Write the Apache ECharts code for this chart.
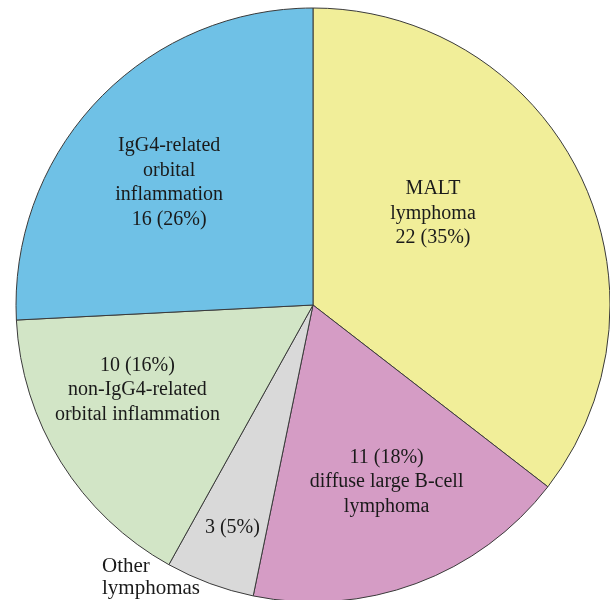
<!DOCTYPE html>
<html><head><meta charset="utf-8">
<script src="https://cdn.jsdelivr.net/npm/echarts@6/dist/echarts.min.js"></script>
<style>html,body{margin:0;padding:0;background:#fff}#c{width:610px;height:600px}</style>
</head><body><div id="c"></div>
<script>
const categories = ['MALT\nlymphoma', 'diffuse large B-cell\nlymphoma', 'Other lymphomas', 'non-IgG4-related\norbital inflammation', 'IgG4-related\norbital\ninflammation'];
const counts = [22, 11, 3, 10, 16];
const percents = [35, 18, 5, 16, 26];
const colors = ['#F1EE99', '#D59CC5', '#D9D9D9', '#D2E5C6', '#6FC1E6'];
// label text layout per slice: value first or name first
const valueFirst = [false, true, true, true, false];
const showName = [true, true, false, true, true];
const labelShift = [[-16, -25], [21, 35], [-28, 81], [-47, 5], [-34, -18]];

const chart = echarts.init(document.getElementById('c'));
chart.setOption({
  animation: false,
  series: [{
    type: 'pie',
    center: [313, 305],
    radius: [0, 297],
    startAngle: 90,
    clockwise: true,
    data: categories.map((n, i) => ({ name: n, value: counts[i], itemStyle: { color: colors[i] } })),
    itemStyle: { borderColor: '#3a3a3a', borderWidth: 1 },
    label: {
      show: true,
      position: 'inside',
      fontFamily: 'Liberation Serif',
      fontSize: 20,
      lineHeight: 24.5,
      color: '#1a1a1a',
      align: 'center',
      formatter: p => {
        const i = p.dataIndex;
        const v = counts[i] + ' (' + percents[i] + '%)';
        if (!showName[i]) return v;
        return valueFirst[i] ? v + '\n' + categories[i] : categories[i] + '\n' + v;
      }
    },
    labelLine: { show: false },
    labelLayout: p => ({ dx: labelShift[p.dataIndex][0], dy: labelShift[p.dataIndex][1] }),
    emphasis: { disabled: true }
  }],
  graphic: [{
    type: 'text',
    left: 102, top: 555,
    style: { text: 'Other\nlymphomas', fontFamily: 'Liberation Serif', fontSize: 21, lineHeight: 22, fill: '#1a1a1a', align: 'left' }
  }]
});
</script></body></html>
